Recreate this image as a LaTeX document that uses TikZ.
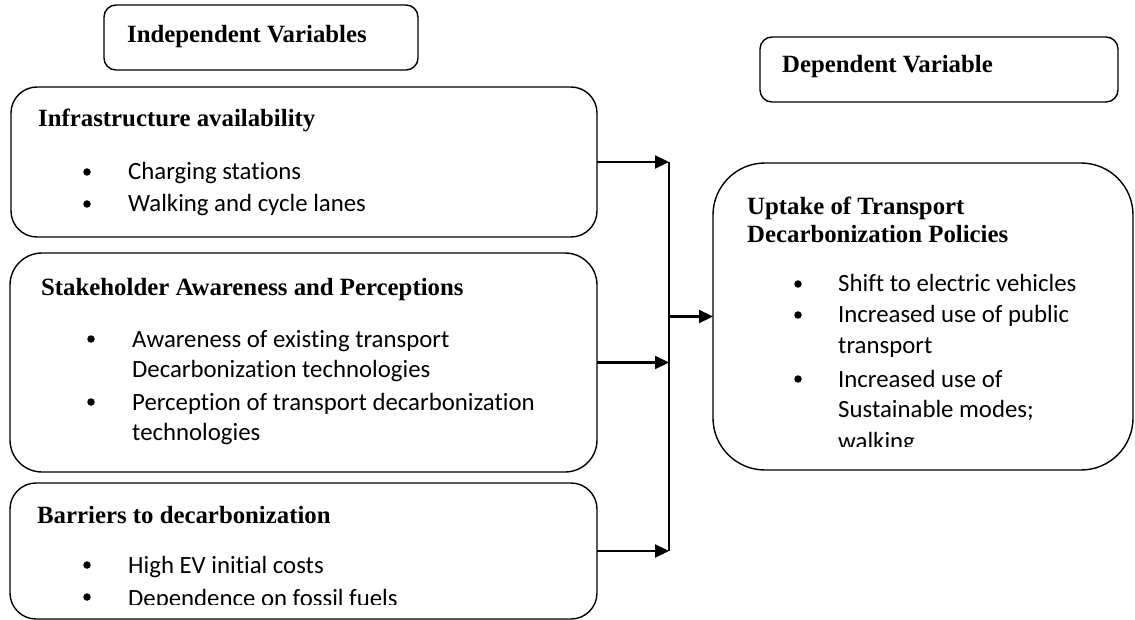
\documentclass[tikz,border=0pt]{standalone}
\usepackage{fontspec}
\setmainfont{Liberation Serif}
\newfontfamily\calibrifont[Ligatures=NoCommon]{Carlito}
\usetikzlibrary{arrows.meta}
\begin{document}
\begin{tikzpicture}[x=1pt,y=-1pt,
  box/.style={draw, line width=1.4pt, rounded corners=#1, anchor=north west, inner sep=0pt, outer sep=0pt},
  box/.default=25pt,
  title/.style={anchor=base west, inner sep=0pt, font=\bfseries\fontsize{24.8}{29}\selectfont},
  item/.style={anchor=base west, inner sep=0pt, font=\calibrifont\fontsize{24.8}{30}\selectfont},
  dot/.style={circle, fill, inner sep=0pt, minimum size=7.5pt},
  conn/.style={line width=2.2pt, -{Triangle[length=14pt,width=13pt]}},
  bus/.style={line width=1.5pt}]
\useasboundingbox (0,0) rectangle (1135,620);
% boxes
\node[box=12pt, minimum width=314pt, minimum height=65pt] (ind) at (104,5) {};
\node[box=12pt, minimum width=358pt, minimum height=65pt] (dep) at (760,37) {};
\node[box=26pt, minimum width=586pt, minimum height=150pt] (infra) at (11,87) {};
\node[box=32pt, minimum width=587pt, minimum height=219pt] (stake) at (10,253) {};
\node[box=26pt, minimum width=587pt, minimum height=136pt] (barr) at (10,483) {};
\node[box=52pt, minimum width=420pt, minimum height=307pt] (up) at (713,163) {};
% headings
\node[title] (indt) at (127,43) {Independent Variables};
\node[title] (dept) at (782,73) {Dependent Variable};
% infrastructure
\node[title] (infrat) at (38,127) {Infrastructure availability};
\node[dot] (ib1) at (87,172) {};
\node[item] (it1) at (128,180) {Charging stations};
\node[dot] (ib2) at (87,204) {};
\node[item] (it2) at (128,212) {Walking and cycle lanes};
% stakeholder
\node[title] (staket) at (41,295) {Stakeholder Awareness and Perceptions};
\node[dot] (sb1) at (91,339) {};
\node[item] (st1) at (132,347) {Awareness of existing transport};
\node[item] (st1b) at (132,377) {Decarbonization technologies};
\node[dot] (sb2) at (91,402) {};
\node[item] (st2) at (132,410) {Perception of transport decarbonization};
\node[item] (st2b) at (132,440) {technologies};
% barriers
\node[title] (barrt) at (37,523) {Barriers to decarbonization};
\node[dot] (bb1) at (87,565) {};
\node[item] (bt1) at (128,573) {High EV initial costs};
\begin{scope}
\clip (0,483) rectangle (597,604);
\node[dot] (bb2) at (87,597) {};
\node[item] (bt2) at (128,606) {Dependence on fossil fuels};
\end{scope}
% uptake
\node[title] (upt1) at (747,215) {Uptake of Transport};
\node[title] (upt2) at (747,243) {Decarbonization Policies};
\node[dot] (ub1) at (798,284) {};
\node[item] (ut1) at (838,292) {Shift to electric vehicles};
\node[dot] (ub2) at (798,315) {};
\node[item] (ut2) at (838,323) {Increased use of public};
\node[item] (ut2b) at (838,353) {transport};
\node[dot] (ub3) at (798,379) {};
\node[item] (ut3) at (838,387) {Increased use of};
\node[item] (ut3b) at (838,417) {Sustainable modes;};
\begin{scope}
\clip (713,163) rectangle (1135,446);
\node[item] (ut3c) at (838,449) {walking};
\end{scope}
% connectors
\coordinate (j1) at (669,162);
\coordinate (j2) at (669,362.5);
\coordinate (j3) at (669,551);
\coordinate (jm) at (669,316.5);
\draw[bus] (j1) -- (j3);
\draw[conn] (infra.east |- j1) -- (j1);
\draw[conn] (stake.east |- j2) -- (j2);
\draw[conn] (barr.east |- j3) -- (j3);
\draw[conn] (jm) -- (up.west |- jm);
\end{tikzpicture}
\end{document}
